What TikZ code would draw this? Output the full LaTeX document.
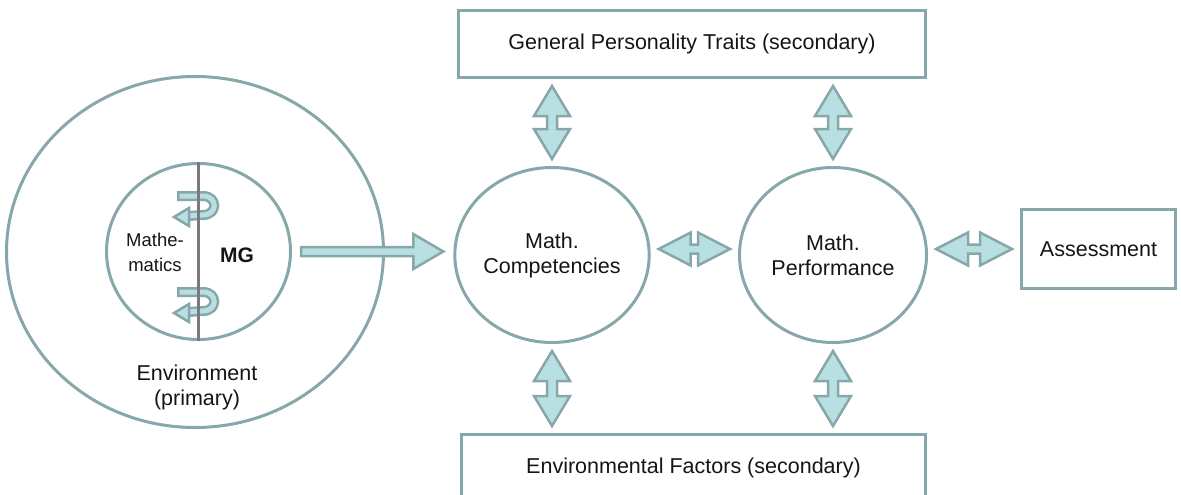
\documentclass[tikz,border=0pt]{standalone}
\usepackage{fontspec}
\setmainfont{Liberation Sans}
\usetikzlibrary{shapes.geometric,calc}
\definecolor{edgec}{HTML}{88A7AA}
\definecolor{fillc}{HTML}{B8DFE2}
\definecolor{txt}{HTML}{151515}
\definecolor{axisc}{HTML}{7A7A7A}
\tikzset{
 every node/.style={text=txt, font=\fontsize{21.5}{25}\selectfont},
 oval/.style={ellipse, draw=edgec, line width=3pt, inner sep=0pt, align=center},
 box/.style={rectangle, draw=edgec, line width=3pt, inner sep=0pt, align=center},
 fat/.style={draw=edgec, fill=fillc, line width=2.5pt, line join=miter},
 rot/.pic={
  \draw[edgec, line width=10pt] (-20,0) -- (6,0) .. controls (21,0) and (21,19) .. (6,19) -- (-8,20);
  \draw[fillc, line width=5pt, shorten <=2.5pt] (-20,0) -- (6,0) .. controls (21,0) and (21,19) .. (6,19) -- (-10,20);
  \filldraw[draw=edgec, fill=fillc, line width=2.5pt, line join=miter] (-23,21) -- (-8,12) -- (-8,30) -- cycle;
 }
}
\newcommand\vdbl[2]{\filldraw[fat] let \p1=(#1), \p2=(#2) in
 (\x1,\y1-7pt) -- (\x1+18pt,\y1-37pt) -- (\x1+5pt,\y1-37pt) -- (\x1+5pt,\y2+37pt) -- (\x1+18pt,\y2+37pt) -- (\x1,\y2+7pt)
 -- (\x1-18pt,\y2+37pt) -- (\x1-5pt,\y2+37pt) -- (\x1-5pt,\y1-37pt) -- (\x1-18pt,\y1-37pt) -- cycle;}
\newcommand\hdbl[2]{\filldraw[fat] let \p1=(#1), \p2=(#2) in
 (\x1+8pt,\y1) -- (\x1+40pt,\y1+16.5pt) -- (\x1+40pt,\y1+4.5pt) -- (\x2-40pt,\y1+4.5pt) -- (\x2-40pt,\y1+16.5pt) -- (\x2-8pt,\y1)
 -- (\x2-40pt,\y1-16.5pt) -- (\x2-40pt,\y1-4.5pt) -- (\x1+40pt,\y1-4.5pt) -- (\x1+40pt,\y1-16.5pt) -- cycle;}
\begin{document}
\begin{tikzpicture}[x=1pt,y=-1pt]
\useasboundingbox (0,0) rectangle (1181,495);
% environment
\node[oval, minimum width=377, minimum height=351] (env) at (195,252) {};
\node[align=center] (envlab) at (197,387) {Environment\\(primary)};
\node[oval, minimum width=184, minimum height=176] (mg) at (198.5,251.5) {};
\node[align=center, font=\fontsize{18.5}{25}\selectfont] (mathlab) at (155,252) {Mathe-\\matics};
\node[font=\bfseries\fontsize{21}{25}\selectfont] (mglab) at (237,255) {MG};
\pic at (197,196) {rot};
\pic at (197,292) {rot};
\draw[axisc, line width=2.5pt] (mg.north) -- (mg.south);
% main nodes
\node[box, minimum width=467, minimum height=67] (gpt) at (692,44) {General Personality Traits (secondary)};
\node[box, minimum width=464, minimum height=67] (envf) at (693.5,468) {Environmental Factors (secondary)};
\node[oval, minimum width=187, minimum height=175] (mc) at (552,255) {Math.\\Competencies};
\node[oval, minimum width=187, minimum height=175] (mp) at (833,255) {Math.\\Performance};
\node[box, minimum width=154, minimum height=79] (assess) at (1098.5,249) {Assessment};
% wide arrow
\filldraw[fat] let \p1=(mg.east), \p2=(mc.west) in
 (\x1+9pt,\y1+4.5pt) -- (\x2-40pt,\y1+4.5pt) -- (\x2-40pt,\y1+17.5pt) -- (\x2-10pt,\y1)
 -- (\x2-40pt,\y1-17.5pt) -- (\x2-40pt,\y1-4.5pt) -- (\x1+9pt,\y1-4.5pt) -- cycle;
% double arrows
\vdbl{mc.north |- gpt.south}{mc.north}
\vdbl{mp.north |- gpt.south}{mp.north}
\vdbl{mc.south}{mc.south |- envf.north}
\vdbl{mp.south}{mp.south |- envf.north}
\hdbl{$(mc.east)+(0,-6)$}{mp.west}
\hdbl{$(mp.east)+(0,-6)$}{assess.west}
\end{tikzpicture}
\end{document}
